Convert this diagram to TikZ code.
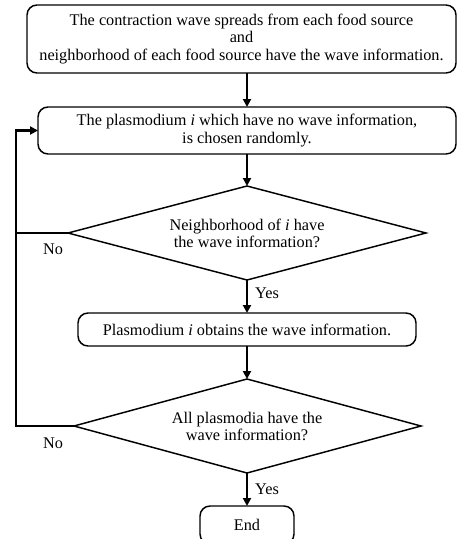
\documentclass[tikz,border=0pt]{standalone}
\usepackage{fontspec}
\setmainfont{Liberation Serif}
\usetikzlibrary{arrows.meta}
\begin{document}
\begin{tikzpicture}[x=0.75pt,y=-0.75pt,
  font=\fontsize{12.2}{12.8}\selectfont,
  procbox/.style={draw, line width=1.1pt, rounded corners=7.5pt, align=center, inner sep=0pt, outer sep=0pt},
  dshape/.style={draw, line width=1.1pt, line join=miter},
  dtext/.style={align=center, inner sep=0pt},
  conn/.style={line width=2.1pt, -{Triangle[length=6pt,width=6pt]}},
  line/.style={line width=2.1pt},
  lbl/.style={inner sep=0pt}]
\useasboundingbox (0,0) rectangle (459,539);
\begin{scope}
\clip (0,0) rectangle (459,539);
\node[procbox, minimum width=429*0.75pt, minimum height=68*0.75pt] (b1) at (241.5,39)
  {The contraction wave spreads from each food source\\and\\neighborhood of each food source have the wave information.};
\node[procbox, minimum width=418*0.75pt, minimum height=47*0.75pt] (b2) at (247,130.5)
  {The plasmodium \textit{i} which have no wave information,\\is chosen randomly.};
% decision 1
\coordinate (d1n) at (247,186);
\coordinate (d1e) at (426,233);
\coordinate (d1s) at (247,280);
\coordinate (d1w) at (68,233);
\draw[dshape] (d1n) -- (d1e) -- (d1s) -- (d1w) -- cycle;
\node[dtext] (d1) at (247,233) {Neighborhood of \textit{i} have\\the wave information?};
\node[procbox, minimum width=338*0.75pt, minimum height=33*0.75pt] (b3) at (247,329.5)
  {Plasmodium \textit{i} obtains the wave information.};
% decision 2
\coordinate (d2n) at (247,379);
\coordinate (d2e) at (421,426);
\coordinate (d2s) at (247,473);
\coordinate (d2w) at (74,426);
\draw[dshape] (d2n) -- (d2e) -- (d2s) -- (d2w) -- cycle;
\node[dtext] (d2) at (247,426) {All plasmodia have the\\wave information?};
\node[procbox, minimum width=94*0.75pt, minimum height=38*0.75pt] (end) at (247,525) {End};
\coordinate (c1) at (16,233);
\coordinate (c2) at (16,426);
\coordinate (c3) at (16,130.5);
\draw[conn] (b1.south -| b2.north) -- (b2.north);
\draw[conn] (b2.south) -- (d1n);
\draw[conn] (d1s) -- (b3.north);
\draw[conn] (b3.south) -- (d2n);
\draw[conn] (d2s) -- (end.north);
\draw[line] (d1w) -- (c1);
\draw[conn] (d2w) -- (c2) -- (c3) -- (b2.west);
\node[lbl] (no1) at (53,249) {No};
\node[lbl] (no2) at (53,443) {No};
\node[lbl] (yes1) at (267,293) {Yes};
\node[lbl] (yes2) at (267,489) {Yes};
\end{scope}
\end{tikzpicture}
\end{document}
